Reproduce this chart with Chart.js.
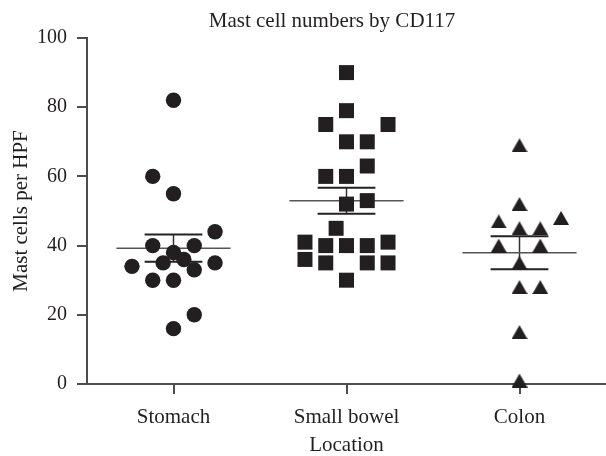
<!DOCTYPE html>
<html>
<head>
<meta charset="utf-8">
<script src="https://cdn.jsdelivr.net/npm/chart.js@4"></script>
<style>body{margin:0;background:#fff}</style>
</head>
<body>
<canvas id="chart" width="606" height="456"></canvas>
<script>
// data
const categories = ['Stomach', 'Small bowel', 'Colon'];
const stomach = [82, 60, 55, 44, 40, 40, 38, 36, 35, 35, 34, 33, 30, 30, 20, 16];
const smallBowel = [90, 79, 75, 75, 70, 70, 63, 60, 60, 53, 52, 45, 41, 41, 40, 40, 40, 36, 35, 35, 35, 30];
const colon = [69, 52, 48, 47, 45, 45, 40, 40, 35, 28, 28, 15, 1];
const yTicks = [0, 20, 40, 60, 80, 100];

// column slot of each dot (how the dots are spread sideways)
const stomachSlots = [0, -1, 0, 2, -1, 1, 0, 0.5, -0.5, 2, -2, 1, -1, 0, 1, 0];
const smallBowelSlots = [0, 0, -1, 2, 0, 1, 1, -1, 0, 1, 0, -0.5, -2, 2, -1, 0, 1, -2, -1, 1, 2, 0];
const colonSlots = [0, 0, 2, -1, 0, 1, -1, 1, 0, 0, 1, 0, 0];

const slotW = 0.12;
const ink = '#231f20';
const font = 'Liberation Serif';

function dots(values, slots, pos) {
  return values.map((v, i) => ({ x: pos + slots[i] * slotW, y: v }));
}

function stats(values) {
  const n = values.length;
  const m = values.reduce((a, b) => a + b, 0) / n;
  const sd = Math.sqrt(values.reduce((a, b) => a + (b - m) * (b - m), 0) / (n - 1));
  return { m, sem: sd / Math.sqrt(n) };
}

// GraphPad centres the triangle box on the value, so use a small image
const tri = document.createElement('canvas');
tri.width = 16; tri.height = 14;
const tctx = tri.getContext('2d');
tctx.fillStyle = ink;
tctx.beginPath();
tctx.moveTo(8, 0); tctx.lineTo(16, 14); tctx.lineTo(0, 14);
tctx.closePath();
tctx.fill();

const groups = [stomach, smallBowel, colon];
const meanPts = [], capPts = [], stemPts = [];
groups.forEach((g, i) => {
  const s = stats(g);
  const c = i + 1;
  meanPts.push({ x: c - 0.33, y: s.m }, { x: c + 0.33, y: s.m }, { x: c + 0.5, y: null });
  capPts.push({ x: c - 0.167, y: s.m + s.sem }, { x: c + 0.167, y: s.m + s.sem }, { x: c, y: null });
  capPts.push({ x: c - 0.167, y: s.m - s.sem }, { x: c + 0.167, y: s.m - s.sem }, { x: c + 0.5, y: null });
  stemPts.push({ x: c, y: s.m - s.sem }, { x: c, y: s.m + s.sem }, { x: c + 0.5, y: null });
});

const titlePlugin = {
  id: 'plotTitle',
  afterDraw(chart) {
    const c = chart.ctx;
    c.save();
    c.font = '21px "' + font + '"';
    c.fillStyle = ink;
    c.textAlign = 'center';
    c.textBaseline = 'alphabetic';
    c.fillText('Mast cell numbers by CD117', 332, 27);
    c.restore();
  }
};

const axisColor = '#4d4d4d';

new Chart(document.getElementById('chart'), {
  type: 'scatter',
  data: {
    datasets: [
      { data: dots(stomach, stomachSlots, 1), pointStyle: 'circle', pointRadius: 7.7, backgroundColor: ink, borderWidth: 0, order: 0 },
      { data: dots(smallBowel, smallBowelSlots, 2), pointStyle: 'rect', pointRadius: 10.6, backgroundColor: ink, borderWidth: 0, order: 0 },
      { data: dots(colon, colonSlots, 3), pointStyle: tri, pointRadius: 8, backgroundColor: ink, borderWidth: 0, order: 0, clip: false },
      { data: meanPts, showLine: true, pointRadius: 0, borderColor: '#555', borderWidth: 1.5, spanGaps: false, order: 1 },
      { data: capPts, showLine: true, pointRadius: 0, borderColor: '#222', borderWidth: 2, spanGaps: false, order: 1 },
      { data: stemPts, showLine: true, pointRadius: 0, borderColor: '#333', borderWidth: 1.5, spanGaps: false, order: 1 }
    ]
  },
  options: {
    responsive: false,
    animation: false,
    events: [],
    layout: { autoPadding: false, padding: { top: 38, right: 0, left: 5, bottom: 0 } },
    plugins: { legend: { display: false }, tooltip: { enabled: false }, title: { display: false } },
    scales: {
      x: {
        type: 'linear',
        min: 0.5,
        max: 3.5,
        afterBuildTicks: s => { s.ticks = categories.map((c, i) => ({ value: i + 1 })); },
        afterFit: s => { s.height = 72; s.paddingLeft = 0; s.paddingRight = 0; },
        ticks: {
          callback: v => categories[v - 1],
          color: ink,
          font: { family: font, size: 21 },
          padding: 11,
          maxRotation: 0
        },
        grid: { drawOnChartArea: false, drawTicks: true, tickLength: 10, color: axisColor, lineWidth: 2 },
        border: { display: true, color: axisColor, width: 2 },
        title: { display: true, text: 'Location', color: ink, font: { family: font, size: 21, lineHeight: 1 }, padding: { top: 0, bottom: 0 } }
      },
      y: {
        min: 0,
        max: 100,
        afterBuildTicks: s => { s.ticks = yTicks.map(v => ({ value: v })); },
        afterFit: s => { s.width = 82; },
        ticks: { color: ink, font: { family: font, size: 20 }, padding: 10 },
        grid: { drawOnChartArea: false, drawTicks: true, tickLength: 10, color: axisColor, lineWidth: 2 },
        border: { display: true, color: axisColor, width: 2 },
        title: { display: true, text: 'Mast cells per HPF', color: ink, font: { family: font, size: 21 }, padding: 4 }
      }
    }
  },
  plugins: [titlePlugin]
});
</script>
</body>
</html>
